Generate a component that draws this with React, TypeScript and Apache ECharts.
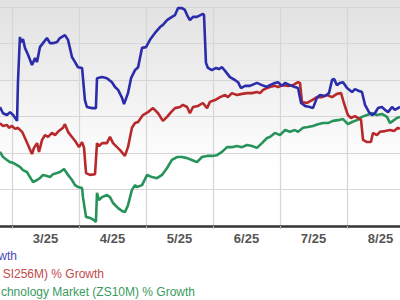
import React, { useEffect, useRef } from "react";
import * as echarts from "echarts";

// Month bands of the category axis (labels sit between the month gridlines)
const monthLabels = ["2/25", "3/25", "4/25", "5/25", "6/25", "7/25", "8/25"];
// Hidden day axis: days since 3/1, spanning the same seven bands
const dayMin = -30.5;
const dayMax = 183;

// [day since 3/1, % growth]
const stockGrowth: [number, number][] = [
  [-5.5, 2.6], [-4.1, 0.9], [-2.3, 0.4], [-0.9, 1.2], [0.5, 0.4], [2.3, -1.2], [2.7, 9.2],
  [3.6, 21.8], [4.1, 20.4], [5.0, 21.2], [5.9, 18.8], [7.3, 16.9], [9.1, 14.1], [10.5, 16.0],
  [11.4, 14.9], [12.7, 19.0], [14.1, 20.1], [15.9, 21.5], [17.3, 20.1], [18.7, 20.1], [20.5, 20.4],
  [21.8, 21.5], [24.1, 22.3], [25.5, 21.0], [27.3, 16.3], [28.7, 14.9], [30.0, 13.5], [31.9, 13.3],
  [33.2, 4.5], [34.1, 2.6], [36.4, 2.3], [38.2, 2.3], [38.7, 10.5], [41.0, 10.8], [43.2, 10.5],
  [45.5, 9.4], [46.9, 8.1], [48.3, 7.3], [50.1, 5.1], [51.0, 3.4], [52.8, 6.4], [54.2, 10.5],
  [56.0, 12.7], [57.4, 13.5], [59.2, 18.8], [61.0, 19.0], [62.8, 21.0], [65.1, 22.9], [67.4, 24.5],
  [68.7, 25.1], [70.6, 26.4], [72.8, 27.3], [74.2, 27.8], [75.6, 29.7], [77.4, 29.7], [78.7, 29.2],
  [79.7, 27.8], [81.0, 26.4], [82.4, 27.3], [84.2, 27.3], [86.9, 28.1], [87.4, 27.8], [88.3, 14.7],
  [89.2, 13.3], [91.0, 12.7], [92.9, 13.3], [94.2, 13.0], [95.6, 13.5], [97.0, 12.5], [99.2, 10.8],
  [101.5, 10.0], [102.9, 9.4], [104.2, 7.8], [106.1, 8.4], [108.3, 8.4], [111.5, 9.2], [113.8, 8.6],
  [116.1, 8.1], [117.4, 8.6], [119.7, 9.2], [121.1, 9.4], [122.9, 8.4], [124.3, 9.2], [126.5, 8.6],
  [128.8, 8.1], [130.2, 7.8], [131.6, 3.7], [133.4, 2.9], [135.6, 2.6], [137.0, 2.3], [138.8, 5.1],
  [140.2, 5.9], [142.5, 5.6], [144.3, 6.4], [145.7, 10.0], [146.6, 10.3], [147.9, 8.6], [149.3, 9.2],
  [150.7, 9.4], [152.5, 7.8], [154.8, 6.7], [156.1, 7.5], [158.0, 7.0], [159.3, 6.7], [160.7, 3.2],
  [162.5, 1.2], [163.9, 0.4], [165.2, 0.9], [166.6, 2.3], [168.4, 2.6], [169.8, 1.8], [171.2, 1.2],
  [173.0, 2.6], [174.3, 1.8], [175.7, 2.3], [176.6, 2.6],
];

const industryGrowth: [number, number][] = [
  [-5.5, -1.8], [-4.1, -2.6], [-2.3, -2.3], [-1.4, -3.1], [0, -2.6], [1.4, -3.4], [2.7, -3.1],
  [4.6, -4.2], [5.9, -5.9], [7.3, -7.8], [9.1, -10.3], [10.0, -8.6], [11.4, -7.3], [12.3, -9.7],
  [13.7, -6.4], [15.0, -5.1], [16.4, -5.6], [18.2, -4.5], [19.6, -5.1], [20.9, -4.2], [23.2, -3.1],
  [24.1, -2.1], [25.5, -4.2], [27.3, -5.6], [29.1, -7.0], [30.5, -8.4], [31.9, -7.0], [32.8, -8.6],
  [33.7, -15.5], [35.5, -16.0], [37.8, -15.8], [38.7, -7.3], [39.6, -8.1], [41.0, -7.3], [43.2, -7.3],
  [44.6, -5.6], [46.0, -7.3], [47.8, -8.4], [49.2, -9.2], [51.4, -10.8], [52.8, -8.4], [54.6, -3.1],
  [56.0, -1.8], [57.4, -1.5], [59.6, 0.4], [61.9, 1.2], [64.2, 2.3], [66.5, 0.9], [68.7, -1.2],
  [70.6, -0.1], [72.4, 1.2], [74.2, 2.3], [76.5, 2.6], [77.8, 3.2], [79.7, 2.6], [81.0, 0.9],
  [82.4, 2.6], [84.7, 2.9], [86.9, 3.7], [88.8, 2.3], [90.1, 4.0], [92.4, 4.5], [94.7, 5.3],
  [97.0, 5.9], [98.3, 5.3], [100.1, 6.4], [102.4, 5.9], [104.7, 6.2], [107.0, 6.4], [109.2, 6.4],
  [111.5, 6.7], [112.9, 6.4], [114.3, 7.3], [116.1, 7.8], [117.4, 8.1], [119.7, 8.4], [121.1, 8.1],
  [123.4, 8.6], [125.6, 8.4], [127.9, 8.6], [130.2, 9.4], [131.1, 9.2], [132.0, 4.0], [134.3, 3.7],
  [136.6, 4.5], [138.8, 5.3], [141.1, 5.3], [143.4, 5.9], [145.7, 5.3], [147.9, 6.2], [149.8, 6.4],
  [151.1, 3.7], [152.9, 0.4], [154.3, -0.4], [156.1, 0.1], [157.5, -0.4], [158.9, -1.0], [159.8, -6.4],
  [161.6, -7.0], [163.4, -7.0], [164.3, -4.5], [166.1, -5.1], [167.5, -4.2], [169.8, -4.0],
  [172.1, -3.7], [173.9, -4.0], [175.7, -3.1], [176.6, -3.4],
];

const marketGrowth: [number, number][] = [
  [-5.5, -9.7], [-4.1, -11.1], [-2.3, -11.9], [-0.9, -12.5], [0.5, -12.7], [2.3, -13.3], [3.6, -13.8],
  [5.0, -14.7], [6.8, -15.2], [8.2, -16.6], [9.6, -18.0], [11.4, -17.4], [12.7, -16.9], [14.1, -16.0],
  [15.9, -16.3], [17.3, -16.6], [18.7, -15.8], [20.5, -15.5], [21.8, -15.2], [23.7, -14.4],
  [25.5, -16.0], [27.3, -17.4], [28.7, -18.8], [30.0, -19.3], [31.9, -19.6], [32.3, -22.1],
  [33.7, -27.5], [35.5, -27.8], [37.3, -28.4], [38.2, -28.9], [38.7, -20.9], [39.6, -22.9],
  [41.0, -22.1], [43.2, -21.5], [44.6, -22.1], [46.0, -23.7], [48.3, -25.1], [50.1, -25.9],
  [51.4, -26.2], [52.8, -24.3], [54.6, -20.1], [56.0, -18.8], [56.9, -19.3], [59.2, -18.8],
  [61.5, -16.0], [63.7, -16.6], [66.0, -16.9], [68.3, -16.0], [70.6, -14.1], [72.8, -11.9],
  [75.1, -11.1], [77.4, -11.1], [79.7, -11.4], [81.9, -11.9], [84.2, -12.5], [86.5, -11.1],
  [88.8, -10.8], [91.0, -10.8], [93.3, -10.6], [95.6, -9.7], [97.9, -8.4], [100.1, -8.4],
  [102.4, -8.1], [104.7, -8.4], [107.0, -7.8], [109.2, -8.1], [111.5, -8.6], [113.8, -7.3],
  [116.1, -5.9], [117.4, -5.6], [119.7, -4.5], [122.0, -5.1], [124.3, -3.7], [126.5, -4.2],
  [128.8, -3.7], [130.2, -4.2], [132.5, -3.1], [134.7, -2.9], [137.0, -2.6], [139.3, -2.1],
  [141.6, -1.8], [143.8, -1.8], [146.1, -1.2], [148.4, -1.0], [150.7, -0.7], [152.9, -2.1],
  [154.8, -1.5], [157.0, -1.0], [159.3, -0.1], [161.6, 0.4], [163.9, 0.9], [166.1, 0.4],
  [168.4, 0.7], [170.7, -0.1], [172.1, -1.8], [173.4, -1.2], [175.2, -0.4], [176.6, -0.1],
];

// Visible (cropped) legend texts
const legendTexts = ["wth", "SI256M) % Growth", "chnology Market (ZS10M) % Growth"];

const BLUE = "#2a2caa";
const RED = "#b8292b";
const GREEN = "#26935a";

export default function App() {
  const ref = useRef<HTMLDivElement>(null);

  useEffect(() => {
    if (!ref.current) return;
    const chart = echarts.init(ref.current, null, { renderer: "svg" });
    const font = "'Liberation Sans', Arial, sans-serif";
    chart.setOption({
      animation: false,
      backgroundColor: new echarts.graphic.LinearGradient(0, 0, 0, 1, [
        { offset: 0, color: "#e1e1e1" },
        { offset: 0.2, color: "#ebebeb" },
        { offset: 0.4, color: "#f6f6f6" },
        { offset: 0.56, color: "#ffffff" },
        { offset: 1, color: "#ffffff" },
      ]),
      grid: { left: -55, right: -14, top: 7, bottom: 74, containLabel: false, outerBoundsMode: "none" },
      xAxis: [
        {
          type: "category",
          data: monthLabels,
          boundaryGap: true,
          axisLine: { show: true, onZero: false, lineStyle: { color: "#333", width: 2.5 } },
          axisTick: { show: true, interval: 0, length: 3, lineStyle: { color: "#bbb" } },
          axisLabel: {
            interval: 0,
            margin: 6,
            color: "#555",
            fontSize: 13,
            fontWeight: "bold",
            fontFamily: font,
            // the first band lies off-canvas in the cropped reference
            formatter: (v: string, i: number) => (i === 0 ? "" : v),
          },
          splitLine: { show: true, interval: 0, lineStyle: { color: "#d6d6d6", width: 1.2 } },
        },
        { type: "value", min: dayMin, max: dayMax, show: false },
      ],
      yAxis: {
        type: "value",
        min: -30,
        max: 30,
        interval: 10,
        axisLabel: { show: false },
        axisLine: { show: false },
        axisTick: { show: false },
        splitLine: { show: true, lineStyle: { color: "#d6d6d6", width: 1.2 } },
      },
      series: [
        {
          name: "Computer and Technology Market (ZS10M) % Growth",
          type: "line",
          xAxisIndex: 1,
          data: marketGrowth,
          showSymbol: false,
          lineStyle: { color: GREEN, width: 2.6 },
          itemStyle: { color: GREEN },
        },
        {
          name: "Industry (ZSI256M) % Growth",
          type: "line",
          xAxisIndex: 1,
          data: industryGrowth,
          showSymbol: false,
          lineStyle: { color: RED, width: 2.6 },
          itemStyle: { color: RED },
        },
        {
          name: "ZS % Growth",
          type: "line",
          xAxisIndex: 1,
          data: stockGrowth,
          showSymbol: false,
          lineStyle: { color: BLUE, width: 2.6 },
          itemStyle: { color: BLUE },
        },
      ],
      graphic: [
        {
          type: "text",
          style: { text: legendTexts[0], x: 17, y: 256, fill: "#4848b4", font: `12px ${font}`, textAlign: "right", textVerticalAlign: "middle" },
        },
        {
          type: "text",
          style: { text: legendTexts[1], x: 104, y: 274, fill: "#c04a4a", font: `12px ${font}`, textAlign: "right", textVerticalAlign: "middle" },
        },
        {
          type: "text",
          style: { text: legendTexts[2], x: 195, y: 292, fill: "#3a9a60", font: `12px ${font}`, textAlign: "right", textVerticalAlign: "middle" },
        },
      ],
    });
    return () => chart.dispose();
  }, []);

  return <div ref={ref} style={{ width: 400, height: 300, position: "absolute", left: 0, top: 0 }} />;
}
